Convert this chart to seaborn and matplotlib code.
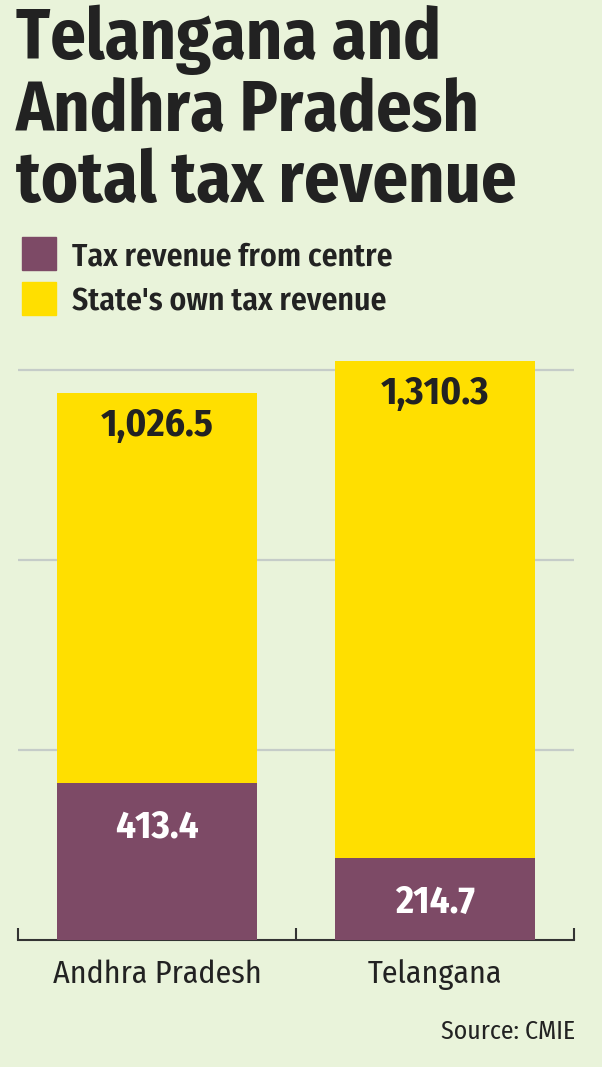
import matplotlib
matplotlib.use("Agg")
import matplotlib.pyplot as plt
from matplotlib import font_manager as fm
import seaborn as sns
import pandas as pd

states = ["Andhra Pradesh", "Telangana"]
centre_tax = [413.4, 214.7]
own_tax = [1026.5, 1310.3]
legend_labels = ["Tax revenue from centre", "State's own tax revenue"]
title = "Telangana and\nAndhra Pradesh\ntotal tax revenue"
source = "Source: CMIE"

BG = "#e9f3da"
PURPLE = "#7d4a66"
YELLOW = "#ffdf00"
GRID = "#c5ccc8"
INK = "#222222"

names = {f.name for f in fm.fontManager.ttflist}
FONT = "DejaVu Sans"
for cand in ["Fira Sans Condensed", "Fira Sans Extra Condensed", "Liberation Sans Narrow"]:
    if cand in names:
        FONT = cand
        break

sns.set_theme(style="white")
plt.rcParams["font.family"] = [FONT, "DejaVu Sans"]

df = pd.DataFrame({"state": states, "centre": centre_tax, "own": own_tax})
df["total"] = df["centre"] + df["own"]

fig = plt.figure(figsize=(6.02, 10.67), dpi=100)
fig.patch.set_facecolor(BG)
ax = fig.add_axes([18 / 602, 1 - 940 / 1067, (574 - 18) / 602, 608 / 1067])
ax.set_facecolor(BG)

sns.barplot(data=df, x="state", y="total", color=YELLOW, width=0.72,
            saturation=1, linewidth=0, ax=ax, zorder=2)
sns.barplot(data=df, x="state", y="centre", color=PURPLE, width=0.72,
            saturation=1, linewidth=0, ax=ax, zorder=3)

ax.set_ylim(0, 1600)
ax.set_xlim(-0.5, 1.5)
ax.set_yticks([500, 1000, 1500])
ax.set_yticklabels([])
ax.tick_params(axis="y", length=0)
ax.grid(axis="y", color=GRID, lw=1.6, zorder=0)
ax.set_axisbelow(True)
for s in ["top", "left", "right"]:
    ax.spines[s].set_visible(False)
ax.spines["bottom"].set_color("#333333")
ax.spines["bottom"].set_linewidth(1.5)
ax.set_xlabel("")
ax.set_ylabel("")
ax.set_xticks([0, 1])
ax.set_xticklabels(states, fontsize=23, color=INK)
ax.tick_params(axis="x", which="major", length=0, pad=14)
ax.set_xticks([-0.5, 0.5, 1.5], minor=True)
ax.tick_params(axis="x", which="minor", direction="in", length=9, width=1.5,
               color="#333333", bottom=True)

for i, row in df.iterrows():
    ax.annotate(f"{row['own']:,.1f}", (i, row["total"]), xytext=(0, -24),
                textcoords="offset points", ha="center", va="center",
                fontsize=28, fontweight="bold", color=INK, zorder=5)
    ax.annotate(f"{row['centre']:,.1f}", (i, row["centre"]), xytext=(0, -32),
                textcoords="offset points", ha="center", va="center",
                fontsize=28, fontweight="bold", color="white", zorder=5)

fig.text(16 / 602, 1 - 5 / 1067, title, ha="left", va="top", fontsize=50.5,
         fontweight="bold", color=INK, linespacing=1.02)

for k, (lab, col) in enumerate(zip(legend_labels, [PURPLE, YELLOW])):
    y0 = 237 + k * 45
    fig.patches.append(plt.Rectangle((22 / 602, 1 - (y0 + 33) / 1067), 34 / 602, 33 / 1067,
                                     transform=fig.transFigure, color=col, figure=fig))
    fig.text(72 / 602, 1 - (y0 + 20) / 1067, lab, ha="left", va="center",
             fontsize=22.8, fontweight="semibold", color=INK)

fig.text(575 / 602, 1 - 1032 / 1067, source, ha="right", va="center",
         fontsize=18.5, color=INK)

fig.savefig("out.png", dpi=100, facecolor=BG)
